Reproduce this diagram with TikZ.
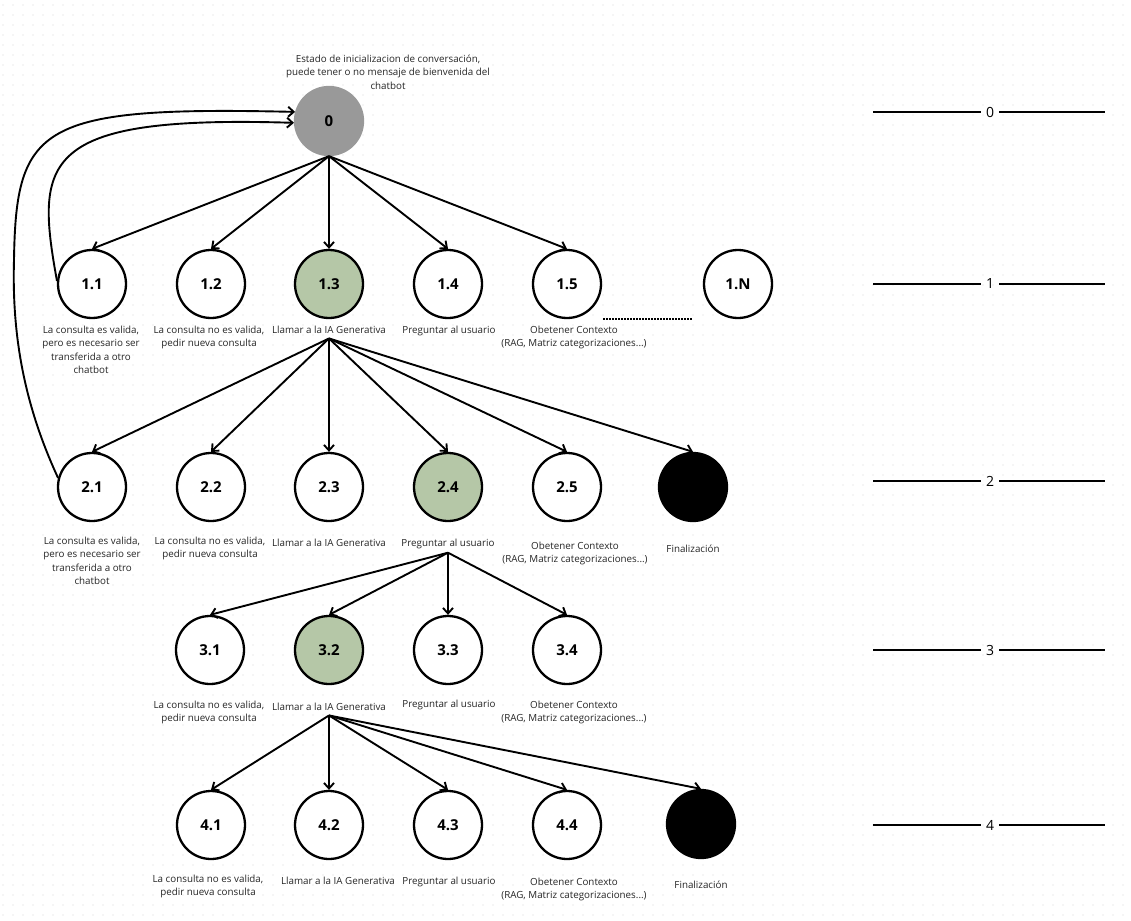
\documentclass[tikz,border=0pt]{standalone}
\usepackage{fontspec}
\setmainfont{Open Sans}
\usepackage{tikz}
\usetikzlibrary{arrows.meta}
\definecolor{verdeIA}{RGB}{181,199,167}
\definecolor{grisIni}{RGB}{153,153,153}
\definecolor{puntos}{RGB}{212,212,212}
\tikzset{>={Straight Barb[length=5.5pt,width=10pt]}}

\begin{document}
\begin{tikzpicture}[x=1pt, y=-1pt, line width=1.9pt]
\tikzset{estado/.style={circle, draw, line width=2.3pt, minimum size=68pt, inner sep=0pt, fill=white, font=\fontsize{15}{15}\selectfont\bfseries},
    activo/.style={estado, fill=verdeIA},
    inicio/.style={estado, fill=grisIni, draw=grisIni},
    fin/.style={estado, fill=black},
    texto/.style={anchor=north, align=center, inner sep=0pt, text=black!85, font=\fontsize{9.8}{13.5}\selectfont},
    nivel/.style={inner sep=4.5pt, font=\fontsize{14}{14}\selectfont},
    rejilla/.style={draw=puntos, line width=1.4pt, line cap=round, dash pattern=on 0pt off 10pt, dash phase=7pt}}
    \useasboundingbox (0,0) rectangle (1131,920);
    \fill[white] (0,0) rectangle (1131,920);
    \foreach \y in {5,15,...,915} \draw[rejilla] (0,\y) -- (1131,\y);
% % % % % % % % % % % % % % % % % % % nivel 0
    \node[inicio] (n0) at (329,121) {0};
    \node[texto] (t0) at (388,54) {Estado de inicializacion de conversación,\\puede tener o no mensaje de bienvenida del\\chatbot};
% % % % % % % % % % % % % % % % % % % nivel 1
    \node[estado] (n11) at (92,284) {1.1};
    \node[estado] (n12) at (211,284) {1.2};
    \node[activo] (n13) at (329,284) {1.3};
    \node[estado] (n14) at (448,284) {1.4};
    \node[estado] (n15) at (567,284) {1.5};
    \node[estado] (n1N) at (738,284) {1.N};

    \node[texto] (t11) at (91,325) {La consulta es valida,\\pero es necesario ser\\transferida a otro\\chatbot};
    \node[texto] (t12) at (209,325) {La consulta no es valida,\\pedir nueva consulta};
    \node[texto] (t13) at (329,325) {Llamar a la IA Generativa};
    \node[texto] (t14) at (449,325) {Preguntar al usuario};
    \node[texto] (t15) at (574,325) {Obetener Contexto\\(RAG, Matriz categorizaciones...)};

    \coordinate (pa) at (603,319);
    \coordinate (pb) at (693,319);
    \draw[line width=2.2pt, dash pattern=on 1.5pt off 1.5pt] (pa) -- (pb);

    \foreach \h in {n11,n12,n13,n14,n15}
        \draw[->] (n0.south) -- (\h.north);
% % % % % % % % % % % % % % % % % % % nivel 2
    \node[estado] (n21) at (92,487) {2.1};
    \node[estado] (n22) at (211,487) {2.2};
    \node[estado] (n23) at (329,487) {2.3};
    \node[activo] (n24) at (448,487) {2.4};
    \node[estado] (n25) at (567,487) {2.5};
    \node[fin] (f2) at (693,487) {};

    \node[texto] (t21) at (92,536) {La consulta es valida,\\pero es necesario ser\\transferida a otro\\chatbot};
    \node[texto] (t22) at (210,536) {La consulta no es valida,\\pedir nueva consulta};
    \node[texto] (t23) at (329,538) {Llamar a la IA Generativa};
    \node[texto] (t24) at (448,538) {Preguntar al usuario};
    \node[texto] (t25) at (575,541) {Obetener Contexto\\(RAG, Matriz categorizaciones...)};
    \node[texto] (t26) at (693,544) {Finalización};

    \foreach \h in {n21,n22,n23,n24,n25,f2}
        \draw[->] ([yshift=-4pt]t13.south) -- (\h.north);

    \draw[->] (n11.175) .. controls (35,160) and (40,115) .. (n0.183);
    \draw[->] (n21.165) .. controls (22,400) and (12,330) .. (14,260) .. controls (16,125) and (40,106) .. (n0.165);
% % % % % % % % % % % % % % % % % % % nivel 3
    \node[estado] (n31) at (210,650) {3.1};
    \node[activo] (n32) at (329,650) {3.2};
    \node[estado] (n33) at (448,650) {3.3};
    \node[estado] (n34) at (567,650) {3.4};

    \node[texto] (t31) at (209,700) {La consulta no es valida,\\pedir nueva consulta};
    \node[texto] (t32) at (329,702) {Llamar a la IA Generativa};
    \node[texto] (t33) at (449,699) {Preguntar al usuario};
    \node[texto] (t34) at (574,700) {Obetener Contexto\\(RAG, Matriz categorizaciones...)};

    \foreach \h in {n31,n32,n33,n34}
        \draw[->] ([yshift=-3pt]t24.south) -- (\h.north);
% % % % % % % % % % % % % % % % % % % nivel 4
    \node[estado] (n41) at (211,825) {4.1};
    \node[estado] (n42) at (329,825) {4.2};
    \node[estado] (n43) at (448,825) {4.3};
    \node[estado] (n44) at (567,825) {4.4};
    \node[fin] (f4) at (701,824) {};

    \node[texto] (t41) at (208,874) {La consulta no es valida,\\pedir nueva consulta};
    \node[texto] (t42) at (338,876) {Llamar a la IA Generativa};
    \node[texto] (t43) at (449,876) {Preguntar al usuario};
    \node[texto] (t44) at (574,877) {Obetener Contexto\\(RAG, Matriz categorizaciones...)};
    \node[texto] (t45) at (701,880) {Finalización};

    \foreach \h in {n41,n42,n43,n44,f4}
        \draw[->] ([yshift=-4pt]t32.south) -- (\h.north);
% % % % % % % % % % % % % % % % % % % niveles
    \foreach \n/\y in {0/112,1/284,2/481,3/650,4/825}{
        \node[nivel] (lv\n) at (990,\y) {\n};
        \coordinate (la\n) at (873,\y);
        \coordinate (lb\n) at (1105,\y);
        \draw (la\n) -- (lv\n) -- (lb\n);
    }
\end{tikzpicture}
\end{document}
